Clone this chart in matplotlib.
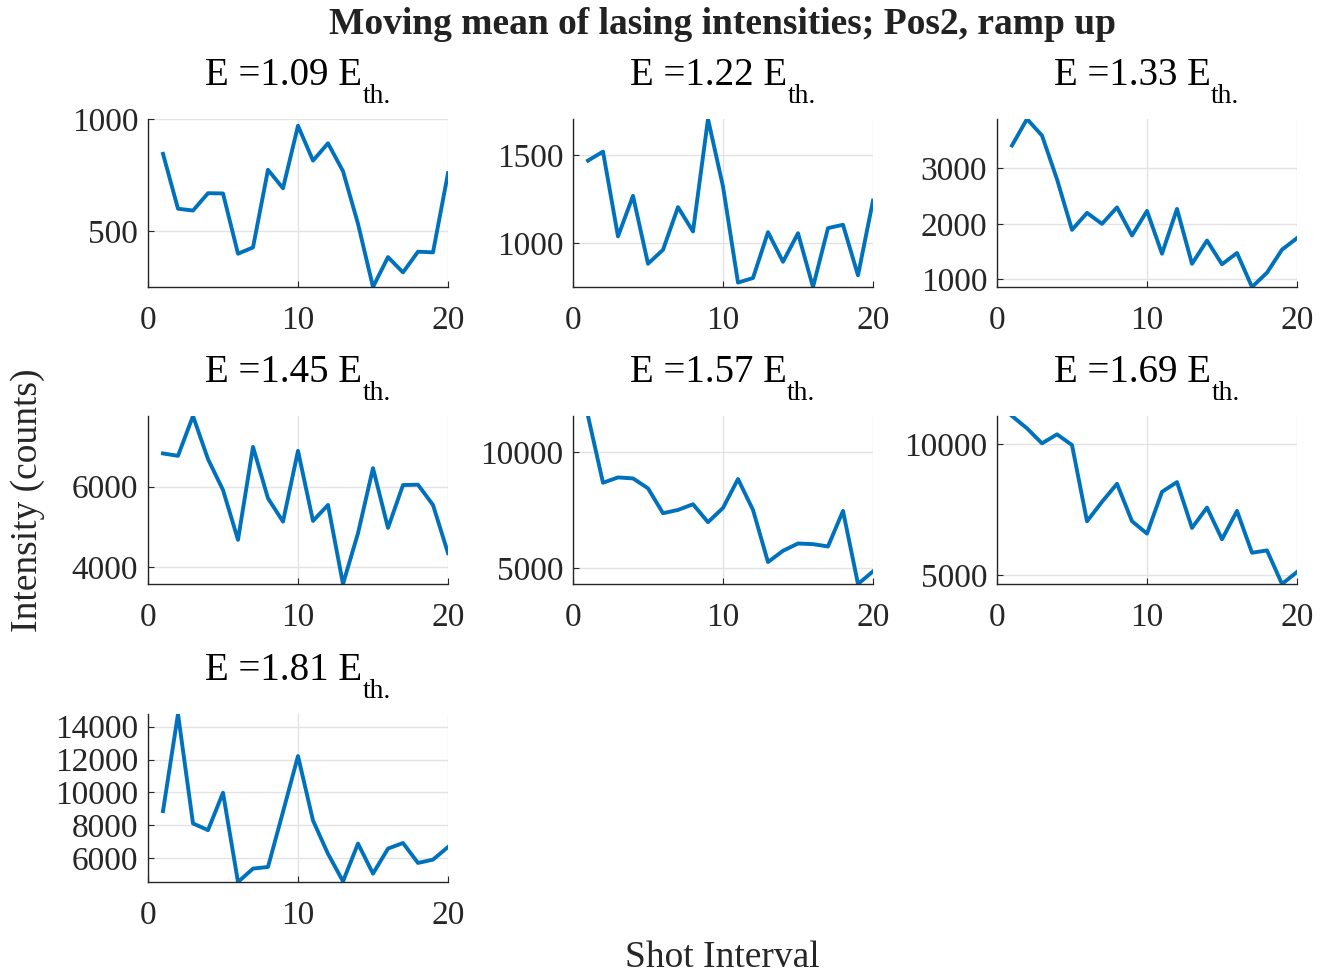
import matplotlib
matplotlib.use("Agg")
import matplotlib.pyplot as plt

plt.rcParams['font.family'] = ['Liberation Serif', 'DejaVu Serif']

# shot interval index
shots = list(range(1, 21))

# pump energies relative to threshold
energies = ["1.09", "1.22", "1.33", "1.45", "1.57", "1.69", "1.81"]

# moving mean of intensity per energy step (counts)
i_109 = [845, 601, 593, 670, 669, 401, 429, 774, 692, 970,
         815, 892, 768, 534, 253, 386, 318, 410, 407, 759]
i_122 = [1468, 1519, 1038, 1268, 883, 962, 1204, 1066, 1704, 1321,
         776, 802, 1062, 894, 1056, 751, 1085, 1104, 817, 1241]
i_133 = [3412, 3889, 3591, 2803, 1892, 2197, 2000, 2297, 1790, 2233,
         1462, 2269, 1280, 1699, 1272, 1475, 862, 1120, 1535, 1743]
i_145 = [6828, 6769, 7760, 6687, 5918, 4678, 6992, 5711, 5132, 6893,
         5149, 5546, 3579, 4843, 6463, 4975, 6042, 6050, 5546, 4347]
i_157 = [11543, 8671, 8900, 8857, 8431, 7360, 7502, 7745, 6974, 7588,
         8830, 7502, 5257, 5743, 6057, 6029, 5929, 7460, 4314, 4857]
i_169 = [11083, 10612, 10038, 10383, 9974, 7065, 7807, 8496, 7065, 6594,
         8190, 8560, 6812, 7589, 6377, 7461, 5864, 5953, 4671, 5130]
i_181 = [8855, 14775, 8102, 7695, 9975, 4534, 5350, 5452, 8811, 12212,
         8285, 6250, 4575, 6876, 5044, 6570, 6912, 5695, 5898, 6668]

series = [i_109, i_122, i_133, i_145, i_157, i_169, i_181]
yticks = [[500, 1000], [1000, 1500], [1000, 2000, 3000], [4000, 6000],
          [5000, 10000], [5000, 10000], [6000, 8000, 10000, 12000, 14000]]
ytop = [1000, None, None, None, None, None, None]

fig = plt.figure(figsize=(13.28, 9.75), dpi=100)
renderer = fig.canvas.get_renderer()

lefts = [148, 573, 997]
tops = [119, 416, 714]
W, H = 300, 168
FW, FH = 1328, 975

for k, (e, y) in enumerate(zip(energies, series)):
    r, c = divmod(k, 3)
    ax = fig.add_axes([lefts[c] / FW, 1 - (tops[r] + H) / FH, W / FW, H / FH])
    ax.plot(shots, y, color='#0072BD', lw=2.8)
    ax.set_xlim(0, 20)
    ax.set_ylim(min(y), ytop[k] if ytop[k] else max(y))
    ax.set_xticks([0, 10, 20])
    ax.set_yticks(yticks[k])
    ax.grid(True, color='#e3e3e3', lw=1)
    ax.set_axisbelow(True)
    for s in ['top', 'right']:
        ax.spines[s].set_visible(False)
    for s in ['left', 'bottom']:
        ax.spines[s].set_color('#262626')
        ax.spines[s].set_linewidth(1)
    ax.tick_params(direction='in', length=4, labelsize=24, colors='#262626')
    ax.tick_params(axis='x', pad=13)
    ax.tick_params(axis='y', pad=7)

    # title "E =x E_th." with a lowered subscript, centred over the axes
    cx = (lefts[c] + W / 2) / FW
    base = 1 - (tops[r] - 34) / FH
    main = fig.text(cx, base, 'E =' + e + ' E', fontsize=28, va='baseline', ha='left')
    sub = fig.text(cx, base - 18 / FH, 'th.', fontsize=20, va='baseline', ha='left')
    wm = main.get_window_extent(renderer).width
    ws = sub.get_window_extent(renderer).width
    x0 = cx - (wm + ws) / 2 / FW
    main.set_x(x0)
    sub.set_x(x0 + wm / FW)

fig.suptitle('Moving mean of lasing intensities; Pos2, ramp up',
             fontsize=27, fontweight='bold', x=0.544, y=1 - 25 / FH,
             va='center', color='#222222')
fig.text(28 / FW, 1 - 500 / FH, 'Intensity (counts)', rotation=90, fontsize=27,
         ha='center', va='center', color='#262626')
fig.text(722 / FW, 1 - 958 / FH, 'Shot Interval', fontsize=27, ha='center',
         va='center', color='#262626')

fig.savefig('out.png', dpi=100)
